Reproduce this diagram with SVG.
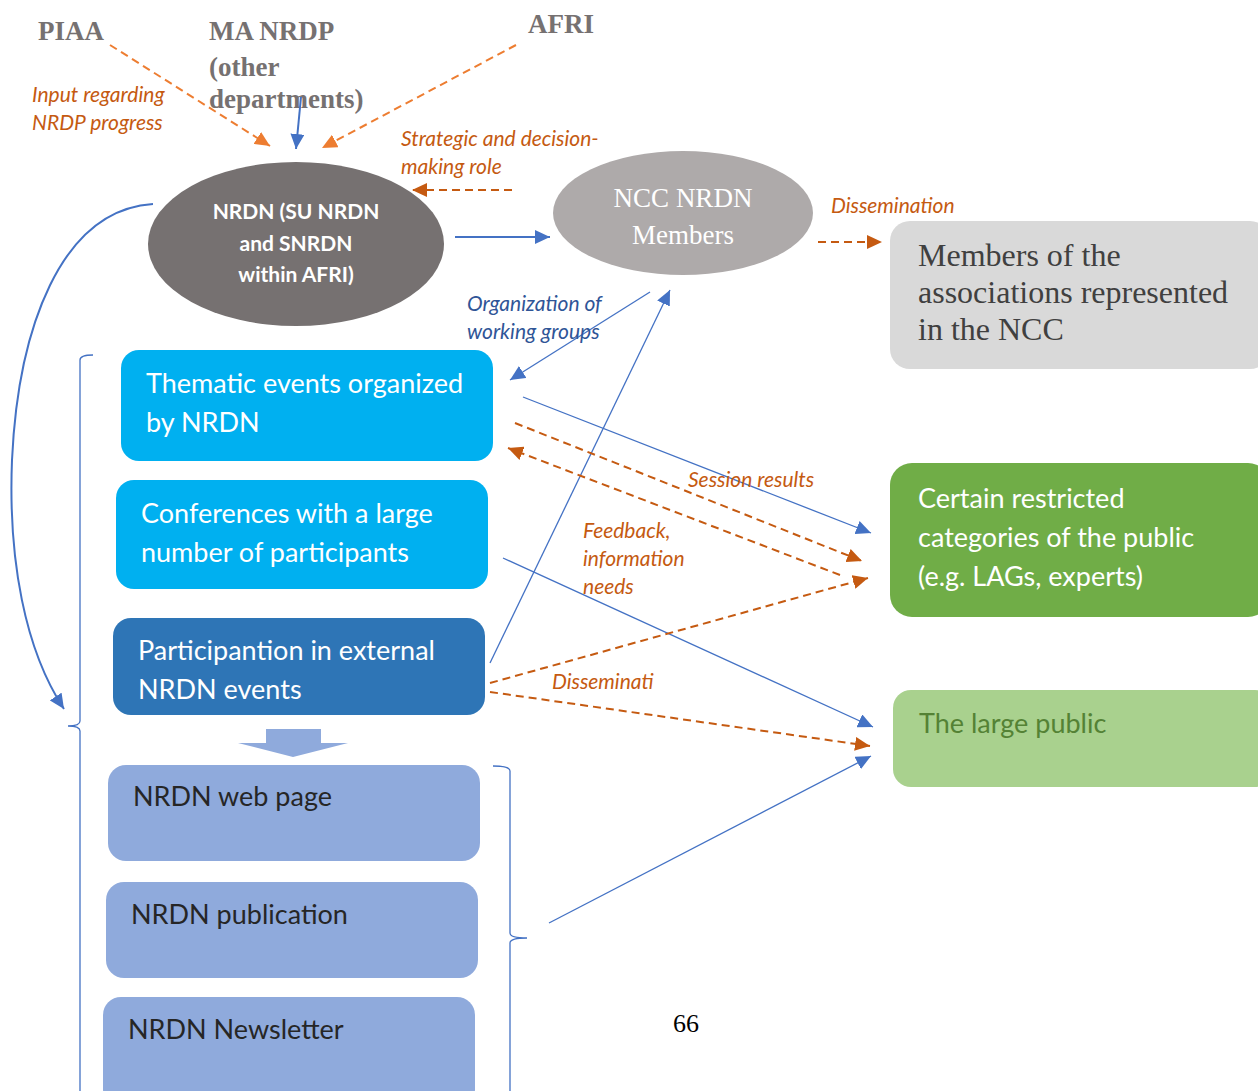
<svg xmlns="http://www.w3.org/2000/svg" width="1258" height="1091" viewBox="0 0 1258 1091">
<defs>
<style>
.hd{font-family:"Liberation Serif",serif;font-weight:bold;font-size:27px;fill:#767171}
.lbo{font-family:Lato,"Open Sans",sans-serif;font-style:italic;font-size:21px;fill:#C55A11}
.lbb{font-family:Lato,"Open Sans",sans-serif;font-style:italic;font-size:21px;fill:#2F5597}
.bx{font-family:Lato,"Open Sans",sans-serif;font-size:27px}
.ser{font-family:"Liberation Serif",serif}
.bl{fill:none;stroke:#4472C4;stroke-width:1.3}
.bl2{fill:none;stroke:#4472C4;stroke-width:2}
.od{fill:none;stroke:#C55A11;stroke-width:2;stroke-dasharray:8 5}
.lod{fill:none;stroke:#ED7D31;stroke-width:2;stroke-dasharray:8 5}
</style>
<marker id="ab" markerUnits="userSpaceOnUse" markerWidth="16" markerHeight="14" refX="15" refY="7" orient="auto"><path d="M0,0 L15,7 L0,14 z" fill="#4472C4"/></marker>
<marker id="ao" markerUnits="userSpaceOnUse" markerWidth="16" markerHeight="14" refX="15" refY="7" orient="auto"><path d="M0,0 L15,7 L0,14 z" fill="#C55A11"/></marker>
<marker id="alo" markerUnits="userSpaceOnUse" markerWidth="16" markerHeight="14" refX="15" refY="7" orient="auto"><path d="M0,0 L15,7 L0,14 z" fill="#ED7D31"/></marker>
</defs>
<rect width="1258" height="1091" fill="#ffffff"/>

<g id="piaa"><text class="hd" x="38" y="40">PIAA</text></g>
<g id="ma-nrdp"><text class="hd" x="209" y="40">MA NRDP</text><text class="hd" x="209" y="76">(other</text><text class="hd" x="209" y="108">departments)</text></g>
<g id="afri"><text class="hd" x="528" y="33">AFRI</text></g>

<g id="nrdn"><ellipse cx="296" cy="244" rx="148" ry="82" fill="#767171"/>
<text font-family="Lato,'Open Sans',sans-serif" font-weight="bold" font-size="21" fill="#fff" text-anchor="middle"><tspan x="296" y="219">NRDN (SU NRDN</tspan><tspan x="296" y="251">and SNRDN</tspan><tspan x="296" y="282">within AFRI)</tspan></text></g>

<g id="ncc"><ellipse cx="683" cy="213" rx="130" ry="62" fill="#AEAAAA"/>
<text class="ser" font-size="27" fill="#fff" text-anchor="middle"><tspan x="683" y="207">NCC NRDN</tspan><tspan x="683" y="244">Members</tspan></text></g>

<g id="members-assoc"><rect x="890" y="221" width="380" height="148" rx="20" fill="#D9D9D9"/>
<text class="ser" font-size="32" fill="#404040"><tspan x="918" y="266">Members of the</tspan><tspan x="918" y="303">associations represented</tspan><tspan x="918" y="340">in the NCC</tspan></text></g>

<g id="thematic"><rect x="121" y="350" width="372" height="111" rx="18" fill="#00B0F0"/>
<text class="bx" fill="#fff"><tspan x="146" y="393">Thematic events organized</tspan><tspan x="146" y="432">by NRDN</tspan></text></g>
<g id="conferences"><rect x="116" y="480" width="372" height="109" rx="18" fill="#00B0F0"/>
<text class="bx" fill="#fff"><tspan x="141" y="523">Conferences with a large</tspan><tspan x="141" y="562">number of participants</tspan></text></g>
<g id="participation"><rect x="113" y="618" width="372" height="97" rx="18" fill="#2E75B6"/>
<text class="bx" fill="#fff"><tspan x="138" y="660">Participantion in external</tspan><tspan x="138" y="699">NRDN events</tspan></text></g>

<g id="block-arrow"><path d="M266,729 H321 V743 H348 L293,757 L238,743 H266 Z" fill="#8FAADC"/></g>

<g id="webpage"><rect x="108" y="765" width="372" height="96" rx="18" fill="#8FAADC"/><text class="bx" fill="#262626" x="133" y="806">NRDN web page</text></g>
<g id="publication"><rect x="106" y="882" width="372" height="96" rx="18" fill="#8FAADC"/><text class="bx" fill="#262626" x="131" y="924">NRDN publication</text></g>
<g id="newsletter"><rect x="103" y="997" width="372" height="110" rx="18" fill="#8FAADC"/><text class="bx" fill="#262626" x="128" y="1039">NRDN Newsletter</text></g>

<g id="restricted"><rect x="890" y="463" width="380" height="154" rx="22" fill="#70AD47"/>
<text class="bx" fill="#fff"><tspan x="918" y="508">Certain restricted</tspan><tspan x="918" y="547">categories of the public</tspan><tspan x="918" y="586">(e.g. LAGs, experts)</tspan></text></g>
<g id="large-public"><rect x="893" y="690" width="380" height="97" rx="18" fill="#A9D18E"/><text class="bx" fill="#548235" x="919" y="733">The large public</text></g>

<g id="connectors">
<path class="lod" d="M110,45 L270,146" marker-end="url(#alo)"/>
<path class="bl2" d="M301,97 L296,149" marker-end="url(#ab)"/>
<path class="lod" d="M516,45 L322,148" marker-end="url(#alo)"/>
<path class="od" d="M512,190 L412,190" marker-end="url(#ao)"/>
<path class="bl2" d="M455,237 L550,237" marker-end="url(#ab)"/>
<path class="od" d="M818,242 L882,242" marker-end="url(#ao)"/>
<path class="bl" d="M650,292 L510,380" marker-end="url(#ab)"/>
<path class="bl" d="M490,663 L670,290" marker-end="url(#ab)"/>
<path class="bl" d="M523,397 L871,533" marker-end="url(#ab)"/>
<path class="od" d="M515,423 L862,561" marker-end="url(#ao)"/>
<path class="od" d="M840,575 L508,448" marker-end="url(#ao)"/>
<path class="bl" d="M503,558 L873,727" marker-end="url(#ab)"/>
<path class="od" d="M490,683 L868,578" marker-end="url(#ao)"/>
<path class="od" d="M490,692 L870,746" marker-end="url(#ao)"/>
<path class="bl" d="M549,923 L871,756" marker-end="url(#ab)"/>
<path class="bl2" d="M153,204 C60,210 18,330 12,460 C8,560 25,650 64,709" marker-end="url(#ab)"/>
<path class="bl" d="M93,355 Q80,355 80,360 V721 Q80,726 68,726 Q80,726 80,731 V1091"/>
<path class="bl" d="M493,766 Q510,766 510,771 V933 Q510,938 527,938 Q510,938 510,943 V1091"/>
</g>

<g id="labels">
<text class="lbo" font-size="22"><tspan x="32" y="102">Input regarding</tspan><tspan x="32" y="130">NRDP progress</tspan></text>
<text class="lbo" font-size="20"><tspan x="401" y="146">Strategic and decision-</tspan><tspan x="401" y="174">making role</tspan></text>
<text class="lbo" x="831" y="213">Dissemination</text>
<text class="lbb"><tspan x="467" y="311">Organization of</tspan><tspan x="467" y="339">working groups</tspan></text>
<text class="lbo" x="688" y="487">Session results</text>
<text class="lbo"><tspan x="583" y="538">Feedback,</tspan><tspan x="583" y="566">information</tspan><tspan x="583" y="594">needs</tspan></text>
<text class="lbo" x="552" y="689">Disseminati</text>
<text class="ser" font-size="26" fill="#000" x="673" y="1032">66</text>
</g>
</svg>
